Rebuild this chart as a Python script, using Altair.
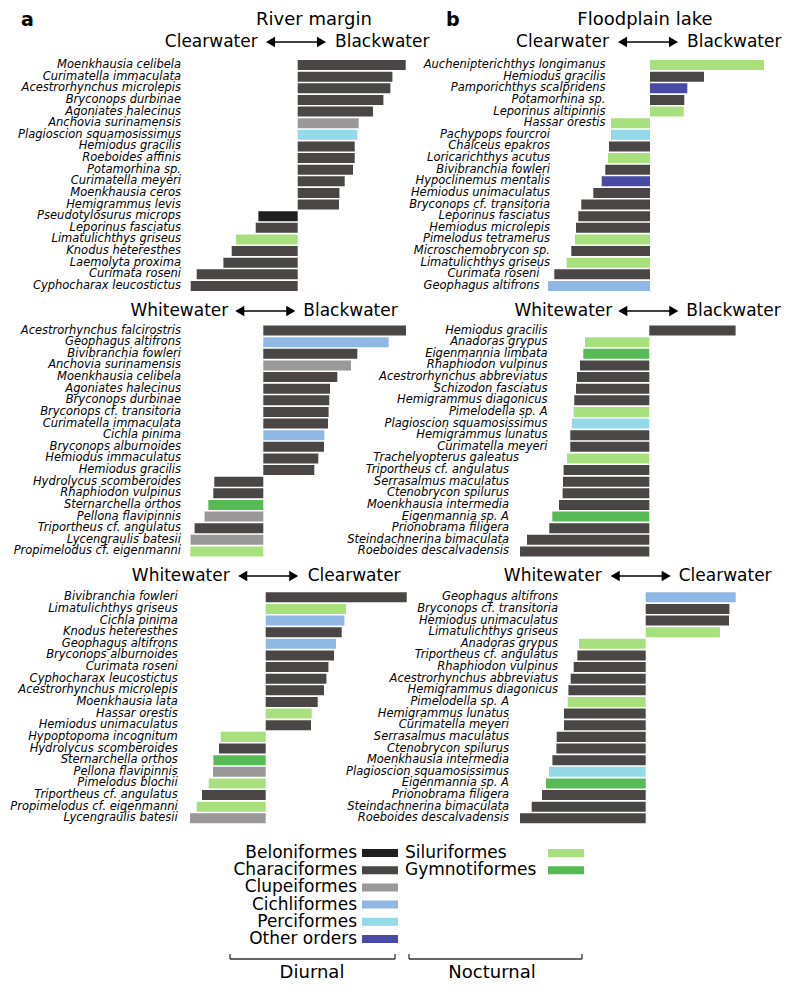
import altair as alt
import pandas as pd

BEL, CHA, CLU, CIC, PER, OTH, SIL, GYM = ("Beloniformes", "Characiformes", "Clupeiformes",
                                          "Cichliformes", "Perciformes", "Other orders",
                                          "Siluriformes", "Gymnotiformes")
ORDERS = [BEL, CHA, CLU, CIC, PER, OTH, SIL, GYM]
ORDER_COLORS = ["#1e1e1e", "#4a4646", "#9a9898", "#8fb8e5", "#93d9e8", "#4949a6", "#a8e07d", "#56bb55"]

# ---- a: River margin, Clearwater <-> Blackwater
rc_species = ["Moenkhausia celibela", "Curimatella immaculata", "Acestrorhynchus microlepis",
              "Bryconops durbinae", "Agoniates halecinus", "Anchovia surinamensis",
              "Plagioscion squamosissimus", "Hemiodus gracilis", "Roeboides affinis", "Potamorhina sp.",
              "Curimatella meyeri", "Moenkhausia ceros", "Hemigrammus levis", "Pseudotylosurus microps",
              "Leporinus fasciatus", "Limatulichthys griseus", "Knodus heteresthes", "Laemolyta proxima",
              "Curimata roseni", "Cyphocharax leucostictus"]
rc_values = [108, 94.7, 92.7, 85.7, 75.3, 61, 59.7, 57, 57, 55.3, 47, 41.7, 41.3,
             -39.3, -42, -61.7, -66, -74.3, -101, -107]
rc_orders = [CHA, CHA, CHA, CHA, CHA, CLU, PER, CHA, CHA, CHA, CHA, CHA, CHA,
             BEL, CHA, SIL, CHA, CHA, CHA, CHA]

# ---- a: River margin, Whitewater <-> Blackwater
rw_species = ["Acestrorhynchus falcirostris", "Geophagus altifrons", "Bivibranchia fowleri",
              "Anchovia surinamensis", "Moenkhausia celibela", "Agoniates halecinus", "Bryconops durbinae",
              "Bryconops cf. transitoria", "Curimatella immaculata", "Cichla pinima", "Bryconops alburnoides",
              "Hemiodus immaculatus", "Hemiodus gracilis", "Hydrolycus scomberoides", "Rhaphiodon vulpinus",
              "Sternarchella orthos", "Pellona flavipinnis", "Triportheus cf. angulatus",
              "Lycengraulis batesii", "Propimelodus cf. eigenmanni"]
rw_values = [142.7, 125.3, 94, 87.7, 74, 66.7, 66, 65.3, 64.7, 61, 60.7, 55, 51,
             -49, -50, -55, -58.7, -68.7, -72.7, -73]
rw_orders = [CHA, CIC, CHA, CLU, CHA, CHA, CHA, CHA, CHA, CIC, CHA, CHA, CHA,
             CHA, CHA, GYM, CLU, CHA, CLU, SIL]

# ---- a: River margin, Whitewater <-> Clearwater
rwc_species = ["Bivibranchia fowleri", "Limatulichthys griseus", "Cichla pinima", "Knodus heteresthes",
               "Geophagus altifrons", "Bryconops alburnoides", "Curimata roseni", "Cyphocharax leucostictus",
               "Acestrorhynchus microlepis", "Moenkhausia lata", "Hassar orestis", "Hemiodus unimaculatus",
               "Hypoptopoma incognitum", "Hydrolycus scomberoides", "Sternarchella orthos",
               "Pellona flavipinnis", "Pimelodus blochii", "Triportheus cf. angulatus",
               "Propimelodus cf. eigenmanni", "Lycengraulis batesii"]
rwc_values = [141, 80.3, 78.7, 76, 70.3, 68.3, 62.7, 60.7, 58.3, 52, 46, 45.3,
              -45, -46.7, -52.3, -52.7, -57, -63.7, -69, -75.7]
rwc_orders = [CHA, SIL, CIC, CHA, CIC, CHA, CHA, CHA, CHA, CHA, SIL, CHA,
              SIL, CHA, GYM, CLU, SIL, CHA, SIL, CLU]

# ---- b: Floodplain lake, Clearwater <-> Blackwater
lc_species = ["Auchenipterichthys longimanus", "Hemiodus gracilis", "Pamporichthys scalpridens",
              "Potamorhina sp.", "Leporinus altipinnis", "Hassar orestis", "Pachypops fourcroi",
              "Chalceus epakros", "Loricarichthys acutus", "Bivibranchia fowleri", "Hypoclinemus mentalis",
              "Hemiodus unimaculatus", "Bryconops cf. transitoria", "Leporinus fasciatus",
              "Hemiodus microlepis", "Pimelodus tetramerus", "Microschemobrycon sp.",
              "Limatulichthys griseus", "Curimata roseni", "Geophagus altifrons"]
lc_values = [114, 54, 37.3, 34.3, 33.7, -39, -39, -41, -42, -44.7, -48.3, -56.7, -68.7,
             -71.7, -74, -75, -78.7, -83.3, -95.7, -102]
lc_orders = [SIL, CHA, OTH, CHA, SIL, SIL, PER, CHA, SIL, CHA, OTH, CHA, CHA,
             CHA, CHA, SIL, CHA, SIL, CHA, CIC]

# ---- b: Floodplain lake, Whitewater <-> Blackwater
lw_species = ["Hemiodus gracilis", "Anadoras grypus", "Eigenmannia limbata", "Rhaphiodon vulpinus",
              "Acestrorhynchus abbreviatus", "Schizodon fasciatus", "Hemigrammus diagonicus",
              "Pimelodella sp. A", "Plagioscion squamosissimus", "Hemigrammus lunatus", "Curimatella meyeri",
              "Trachelyopterus galeatus", "Triportheus cf. angulatus", "Serrasalmus maculatus",
              "Ctenobrycon spilurus", "Moenkhausia intermedia", "Eigenmannia sp. A", "Prionobrama filigera",
              "Steindachnerina bimaculata", "Roeboides descalvadensis"]
lw_values = [86.3, -64.3, -66, -69.3, -72.3, -73.3, -75, -75.7, -77.3, -79, -79, -82.3,
             -85.7, -86.3, -86.7, -90.3, -97, -100, -122.3, -129.3]
lw_orders = [CHA, SIL, GYM, CHA, CHA, CHA, CHA, SIL, PER, CHA, CHA, SIL,
             CHA, CHA, CHA, CHA, GYM, CHA, CHA, CHA]

# ---- b: Floodplain lake, Whitewater <-> Clearwater
lwc_species = ["Geophagus altifrons", "Bryconops cf. transitoria", "Hemiodus unimaculatus",
               "Limatulichthys griseus", "Anadoras grypus", "Triportheus cf. angulatus", "Rhaphiodon vulpinus",
               "Acestrorhynchus abbreviatus", "Hemigrammus diagonicus", "Pimelodella sp. A",
               "Hemigrammus lunatus", "Curimatella meyeri", "Serrasalmus maculatus", "Ctenobrycon spilurus",
               "Moenkhausia intermedia", "Plagioscion squamosissimus", "Eigenmannia sp. A",
               "Prionobrama filigera", "Steindachnerina bimaculata", "Roeboides descalvadensis"]
lwc_values = [90, 83.7, 83.3, 74.3, -66.7, -68.3, -72, -75, -77.3, -78, -81.7, -81.7,
              -89, -89.3, -93.3, -96.7, -99.7, -103.7, -114, -125.7]
lwc_orders = [CIC, CHA, CHA, SIL, SIL, CHA, CHA, CHA, CHA, SIL, CHA, CHA,
              CHA, CHA, CHA, PER, GYM, CHA, CHA, CHA]

FONT = "DejaVu Sans"
STEP = 11.63
color_scale = alt.Scale(domain=ORDERS, range=ORDER_COLORS)


def panel(species, values, orders, width, height, zero_px, band_top, label_groups,
          header, header_y, title=None, letter=None):
    n = len(species)
    anchors = []
    for i in range(n):
        a = label_groups[0][1]
        for start, x in label_groups:
            if i >= start:
                a = x
        anchors.append(a)
    df = pd.DataFrame({"row": list(range(n)), "species": species, "value": values,
                       "order": orders, "label_x": anchors})
    xs = alt.Scale(domain=[-zero_px, width - zero_px], zero=False, nice=False)
    ys = alt.Scale(domain=list(range(n)), range=[band_top, band_top + STEP * n],
                   paddingInner=0.14, paddingOuter=0.07)
    base = alt.Chart(df)
    bars = base.mark_bar().encode(
        x=alt.X("value:Q", scale=xs, axis=None),
        x2=alt.X2(datum=0),
        y=alt.Y("row:O", scale=ys, axis=None),
        color=alt.Color("order:N", scale=color_scale, legend=None),
    )
    labels = base.mark_text(align="right", baseline="middle", font=FONT, fontStyle="italic",
                            fontSize=11.5, color="black").encode(
        x=alt.X("label_x:Q", scale=xs, axis=None),
        y=alt.Y("row:O", scale=ys, axis=None),
        text="species:N",
    )
    left_text, right_text, left_off, arrow_c, right_off = header
    hdr_src = alt.Chart(pd.DataFrame({"k": [0]}))
    t_left = hdr_src.mark_text(align="right", baseline="middle", font=FONT, fontSize=17,
                               color="black").encode(
        x=alt.X(datum=left_off, scale=xs, axis=None), y=alt.value(header_y),
        text=alt.value(left_text))
    t_right = hdr_src.mark_text(align="left", baseline="middle", font=FONT, fontSize=17,
                                color="black").encode(
        x=alt.X(datum=right_off, scale=xs, axis=None), y=alt.value(header_y),
        text=alt.value(right_text))
    shaft = hdr_src.mark_rule(strokeWidth=1.6, color="black").encode(
        x=alt.X(datum=arrow_c - 26, scale=xs, axis=None), x2=alt.X2(datum=arrow_c + 26),
        y=alt.value(header_y))
    head_l = hdr_src.mark_point(shape="triangle-left", filled=True, size=110, opacity=1,
                                color="black").encode(
        x=alt.X(datum=arrow_c - 25.5, scale=xs, axis=None), y=alt.value(header_y))
    head_r = hdr_src.mark_point(shape="triangle-right", filled=True, size=110, opacity=1,
                                color="black").encode(
        x=alt.X(datum=arrow_c + 25.5, scale=xs, axis=None), y=alt.value(header_y))
    layers = [bars, labels, t_left, t_right, shaft, head_l, head_r]
    if title is not None:
        ttext, toff = title
        layers.append(hdr_src.mark_text(align="center", baseline="middle", font=FONT, fontSize=18,
                                        color="black").encode(
            x=alt.X(datum=toff, scale=xs, axis=None), y=alt.value(12), text=alt.value(ttext)))
    if letter is not None:
        ltext, lx = letter
        layers.append(hdr_src.mark_text(align="left", baseline="middle", font=FONT, fontSize=19,
                                        fontWeight="bold", color="black").encode(
            x=alt.value(lx), y=alt.value(12), text=alt.value(ltext)))
    return alt.layer(*layers).properties(width=width, height=height)


WL, WR = 392, 384
H1, H2, H3 = 292, 266, 264

p_tl = panel(rc_species, rc_values, rc_orders, WL, H1, 289.7, 51.2, [(0, -116.7)],
             ("Clearwater", "Blackwater", -40, -1.7, 37.3), 34,
             title=("River margin", 16.3), letter=("a", 13))
p_tr = panel(lc_species, lc_values, lc_orders, WR, H1, 250, 51.2,
             [(0, -44.5), (6, -100), (18, -110.5)],
             ("Clearwater", "Blackwater", -41, -2, 37), 34,
             title=("Floodplain lake", -5), letter=("b", 46))
p_ml = panel(rw_species, rw_values, rw_orders, WL, H2, 255.3, 24.7, [(0, -82.3)],
             ("Whitewater", "Blackwater", -35, 2, 40), 11)
p_mr = panel(lw_species, lw_values, lw_orders, WR, H2, 249.3, 24.7,
             [(0, -101.8), (11, -130.3), (12, -140.3)],
             ("Whitewater", "Blackwater", -37, -1, 37), 11)
p_bl = panel(rwc_species, rwc_values, rwc_orders, WL, H3, 257.7, 25.5, [(0, -88)],
             ("Whitewater", "Clearwater", -36, 2.5, 42), 10)
p_br = panel(lwc_species, lwc_values, lwc_orders, WR, H3, 245.7, 25.5,
             [(0, -87.7), (9, -136.7)],
             ("Whitewater", "Clearwater", -44, -5, 33), 10)

# ---- legend (sits in the left column cell, extending to the right)
diurnal = ORDERS[:6]
nocturnal = ORDERS[6:]
leg_d = pd.DataFrame({"name": diurnal, "row": list(range(len(diurnal)))})
leg_n = pd.DataFrame({"name": nocturnal, "row": list(range(len(nocturnal)))})
ly = alt.Scale(type="point", domain=list(range(6)), range=[23, 109], padding=0)

leg_layers = [
    alt.Chart(leg_d).mark_text(align="right", baseline="middle", font=FONT, fontSize=17,
                               color="black").encode(
        x=alt.value(349), y=alt.Y("row:O", scale=ly, axis=None), text="name:N"),
    alt.Chart(leg_d).mark_rule(strokeWidth=8, strokeCap="butt").encode(
        x=alt.value(354), x2=alt.value(390), y=alt.Y("row:O", scale=ly, axis=None),
        color=alt.Color("name:N", scale=color_scale, legend=None)),
    alt.Chart(leg_n).mark_text(align="left", baseline="middle", font=FONT, fontSize=17,
                               color="black").encode(
        x=alt.value(397), y=alt.Y("row:O", scale=ly, axis=None), text="name:N"),
    alt.Chart(leg_n).mark_rule(strokeWidth=8, strokeCap="butt").encode(
        x=alt.value(540), x2=alt.value(576), y=alt.Y("row:O", scale=ly, axis=None),
        color=alt.Color("name:N", scale=color_scale, legend=None)),
]
one = alt.Chart(pd.DataFrame({"k": [0]}))
for (xa, xb, lab, xc) in [(222, 387, "Diurnal", 304), (401, 574, "Nocturnal", 484)]:
    leg_layers.append(one.mark_rule(strokeWidth=1.3, color="#333333").encode(
        x=alt.value(xa), x2=alt.value(xb), y=alt.value(129)))
    leg_layers.append(one.mark_rule(strokeWidth=1.3, color="#333333").encode(
        x=alt.value(xa), y=alt.value(124), y2=alt.value(129)))
    leg_layers.append(one.mark_rule(strokeWidth=1.3, color="#333333").encode(
        x=alt.value(xb), y=alt.value(124), y2=alt.value(129)))
    leg_layers.append(one.mark_text(align="center", baseline="middle", font=FONT, fontSize=18,
                                    color="black").encode(
        x=alt.value(xc), y=alt.value(143), text=alt.value(lab)))
legend = alt.layer(*leg_layers).properties(width=WL, height=150)

chart = alt.concat(p_tl, p_tr, p_ml, p_mr, p_bl, p_br, legend, columns=2,
                   spacing=0, bounds="flush").properties(
    padding=0, background="white"
).configure_view(stroke=None)

chart.save("out.html", embed_options={"renderer": "svg", "actions": False})
